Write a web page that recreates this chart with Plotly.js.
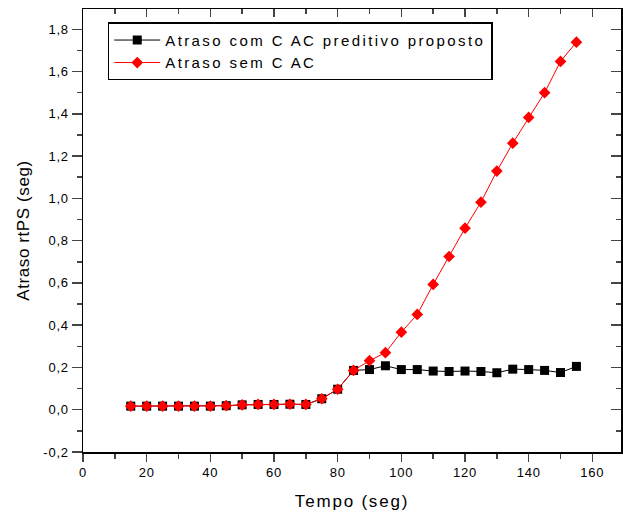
<!DOCTYPE html>
<html>
<head>
<meta charset="utf-8">
<script src="https://cdn.plot.ly/plotly-3.0.1.min.js"></script>
<style>
html,body{margin:0;padding:0;background:#fff;}
#chart{width:623px;height:520px;}
#chart .xtitle{letter-spacing:1.8px;}
#chart .ytitle{letter-spacing:0.6px;}
#chart .xtick text, #chart .ytick text{letter-spacing:0.8px;}
</style>
</head>
<body>
<div id="chart"></div>
<script>
const tempo = [15,20,25,30,35,40,45,50,55,60,65,70,75,80,85,90,95,100,105,110,115,120,125,130,135,140,145,150,155];
const atrasoComCAC = [0.017,0.017,0.017,0.017,0.017,0.017,0.019,0.023,0.025,0.025,0.026,0.025,0.052,0.097,0.186,0.19,0.208,0.19,0.19,0.183,0.181,0.183,0.181,0.175,0.192,0.19,0.186,0.176,0.205];
const atrasoSemCAC = [0.017,0.017,0.017,0.017,0.017,0.017,0.019,0.023,0.025,0.025,0.026,0.025,0.052,0.097,0.186,0.232,0.27,0.367,0.451,0.593,0.725,0.859,0.982,1.129,1.261,1.383,1.50,1.648,1.739];
const seriesNames = ["Atraso com C AC preditivo proposto", "Atraso sem C AC"];
const xTickVals = [0,20,40,60,80,100,120,140,160];
const xTickLabels = ["0","20","40","60","80","100","120","140","160"];
const yTickVals = [-0.2,0,0.2,0.4,0.6,0.8,1.0,1.2,1.4,1.6,1.8];
const yTickLabels = ["-0,2","0,0","0,2","0,4","0,6","0,8","1,0","1,2","1,4","1,6","1,8"];

const font = "Liberation Sans, Arial, sans-serif";
const spaced = s => '<span style="letter-spacing:2.4px">' + s + '</span>';
const traces = [
  {x: tempo, y: atrasoComCAC, name: spaced(seriesNames[0]), type: 'scatter', mode: 'lines+markers',
   line: {color: '#000000', width: 1}, marker: {symbol: 'square', size: 9, color: '#000000'}},
  {x: tempo, y: atrasoSemCAC, name: spaced(seriesNames[1]), type: 'scatter', mode: 'lines+markers',
   line: {color: '#ff0000', width: 1}, marker: {symbol: 'diamond', size: 9, color: '#ff0000'}},
  // invisible companion so the mirrored top/right axes are drawn
  {x: tempo, y: atrasoSemCAC, xaxis: 'x2', yaxis: 'y2', type: 'scatter', mode: 'lines',
   line: {width: 0, color: 'rgba(0,0,0,0)'}, showlegend: false, hoverinfo: 'skip', opacity: 0}
];
const xr = [0, 169];
const yr = [-0.2, 1.896];
const layout = {
  width: 623, height: 520,
  margin: {l: 83, r: 2, t: 9, b: 68},
  paper_bgcolor: '#ffffff', plot_bgcolor: '#ffffff',
  separators: ',.',
  font: {family: font, color: '#000000'},
  showlegend: true,
  legend: {x: 0.046, y: 0.97, xanchor: 'left', yanchor: 'top', bordercolor: '#000000', borderwidth: 1.5,
           bgcolor: '#ffffff', font: {family: font, size: 15, color: '#000000'}, tracegroupgap: 0, itemwidth: 46},
  xaxis: {range: xr, tickvals: xTickVals, ticktext: xTickLabels, ticks: 'outside', ticklen: 8, tickwidth: 1.5,
          showline: true, linecolor: '#000000', linewidth: 1.5, showgrid: false, zeroline: false,
          tickfont: {size: 13}, minor: {ticks: 'outside', dtick: 10, tick0: 0, ticklen: 5, tickwidth: 1.5, showgrid: false},
          title: {text: 'Tempo (seg)', font: {size: 17}, standoff: 16}},
  yaxis: {range: yr, tickvals: yTickVals, ticktext: yTickLabels, ticks: 'outside', ticklen: 10, tickwidth: 1.5,
          showline: true, linecolor: '#000000', linewidth: 1.5, showgrid: false, zeroline: false,
          tickfont: {size: 13}, minor: {ticks: 'outside', dtick: 0.1, tick0: 0, ticklen: 5, tickwidth: 1.5, showgrid: false},
          title: {text: 'Atraso rtPS (seg)', font: {size: 17}, standoff: 12}},
  xaxis2: {overlaying: 'x', side: 'top', range: xr, tickvals: xTickVals, showticklabels: false, ticks: 'inside', ticklen: 8, tickwidth: 1.5,
           showline: true, linecolor: '#000000', linewidth: 1.5, showgrid: false, zeroline: false,
           minor: {ticks: 'inside', dtick: 10, tick0: 0, ticklen: 5, tickwidth: 1.5, showgrid: false}},
  yaxis2: {overlaying: 'y', side: 'right', range: yr, tickvals: yTickVals, showticklabels: false, ticks: 'inside', ticklen: 10, tickwidth: 1.5,
           showline: true, linecolor: '#000000', linewidth: 1.5, showgrid: false, zeroline: false,
           minor: {ticks: 'inside', dtick: 0.1, tick0: 0, ticklen: 5, tickwidth: 1.5, showgrid: false}}
};
Plotly.newPlot('chart', traces, layout, {displayModeBar: false, staticPlot: true});
</script>
</body>
</html>
